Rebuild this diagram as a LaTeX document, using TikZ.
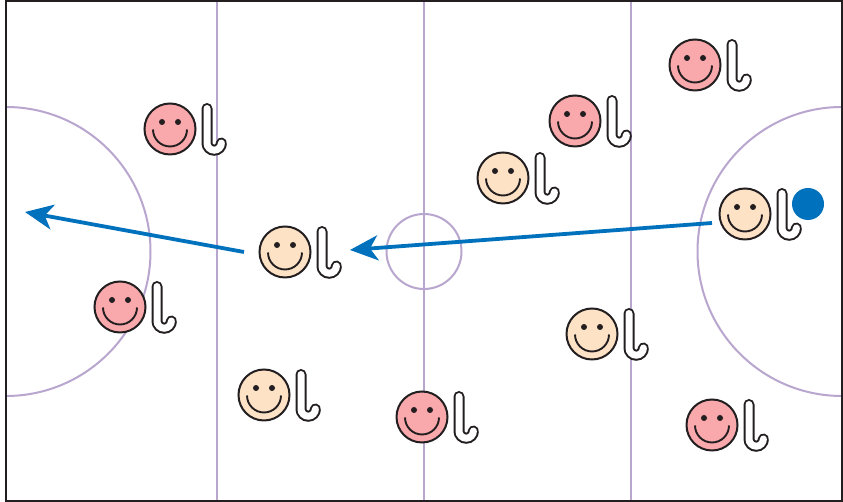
\documentclass[tikz,border=0pt]{standalone}
\usetikzlibrary{arrows.meta}
\definecolor{ink}{HTML}{231F20}
\definecolor{lilac}{HTML}{B9A6CF}
\definecolor{puckblue}{HTML}{0071BC}
\definecolor{pinkface}{HTML}{F9A8AB}
\definecolor{beigeface}{HTML}{FDE2C6}
\tikzset{
  fieldline/.style={draw=lilac,line width=2pt},
  facedisc/.style={circle,draw=ink,line width=2pt,minimum size=51pt,inner sep=0pt},
  eyedot/.style={circle,fill=ink,inner sep=0pt,minimum size=6pt},
  movearrow/.style={draw=puckblue,line width=3.8pt,-{Stealth[length=28pt,width=25pt,inset=8pt]}},
  player/.pic={
    \draw[draw=ink,line width=2pt,double=white,double distance=7pt,line cap=round]
      (37,20.5) -- (37,-14) arc[start angle=180,end angle=360,radius=7.2];
    \node[facedisc,fill=#1] (-face) at (0,0) {};
    \node[eyedot] (-eyeL) at (-8,7) {};
    \node[eyedot] (-eyeR) at (8,7) {};
    \draw[ink,line width=1.9pt] (-17,-0.5) arc[start angle=180,end angle=360,radius=17];
  }
}
\begin{document}
\begin{tikzpicture}[x=1pt,y=1pt]
\useasboundingbox (0,0) rectangle (843,502);
\fill[white] (0,0) rectangle (843,502);
\begin{scope}
\clip (0,0) rectangle (843,502);
\draw[fieldline] (217,1) -- (217,501);
\draw[fieldline] (423.5,1) -- (423.5,501);
\draw[fieldline] (630.5,1) -- (630.5,501);
\draw[fieldline] (6,395) arc[start angle=90,end angle=-90,radius=144.5];
\draw[fieldline] (842,395) arc[start angle=90,end angle=270,radius=144.5];
\node[circle,fieldline,minimum size=75pt,inner sep=0pt] (centre) at (424,250.5) {};
\draw[ink,line width=2.2pt] (6,1) rectangle (842,501);
\end{scope}
\pic (a) at (170,373) {player=pinkface};
\pic (b) at (575,381) {player=pinkface};
\pic (c) at (695,437) {player=pinkface};
\pic (d) at (120,195) {player=pinkface};
\pic (e) at (422,85) {player=pinkface};
\pic (f) at (712,77) {player=pinkface};
\pic (g) at (503,324) {player=beigeface};
\pic (h) at (745,288) {player=beigeface};
\pic (i) at (285,250) {player=beigeface};
\pic (j) at (592,168) {player=beigeface};
\pic (k) at (264,107) {player=beigeface};
\node[circle,fill=puckblue,minimum size=32pt,inner sep=0pt] (puck) at (808,298) {};
\coordinate (a1s) at (244,250);
\coordinate (a1e) at (25,290);
\coordinate (a2s) at (712,279);
\coordinate (a2e) at (350,252);
\draw[movearrow] (a1s) -- (a1e);
\draw[movearrow] (a2s) -- (a2e);
\end{tikzpicture}
\end{document}
